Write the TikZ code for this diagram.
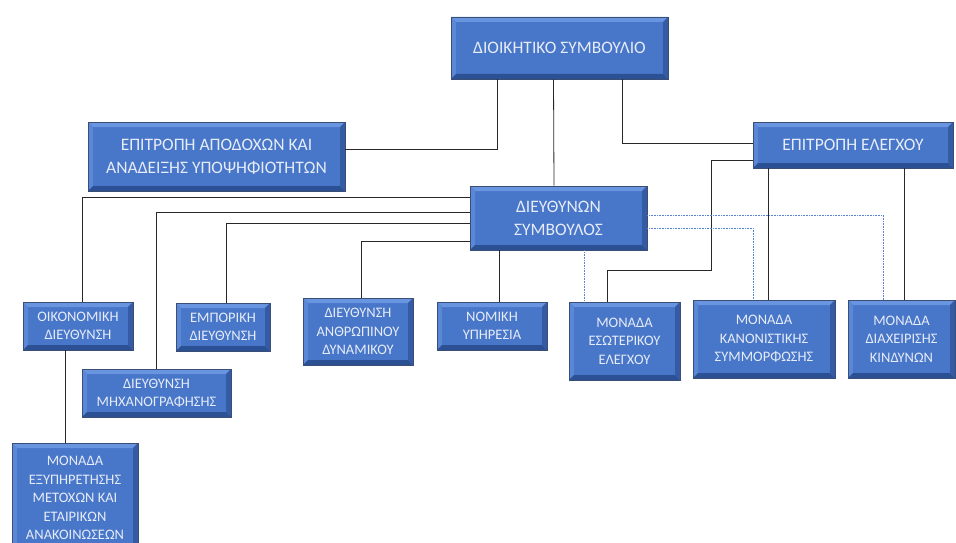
\documentclass[tikz,border=0pt]{standalone}
\usepackage{fontspec}
\setmainfont{Carlito}
\usepackage{tikz}
\usetikzlibrary{positioning,calc}
\definecolor{boxfill}{RGB}{72,118,200}
\definecolor{bevellight}{RGB}{104,148,224}
\definecolor{beveldark}{RGB}{44,80,148}
\definecolor{boxedge}{RGB}{58,78,118}
\definecolor{boxtext}{RGB}{230,236,248}
\definecolor{linkcolor}{RGB}{40,40,40}
\definecolor{dotcolor}{RGB}{90,130,210}
\newcommand{\bb}{path picture bounding box}
\tikzset{
    org box/.style={rectangle, draw=boxedge, line width=0.8pt, fill=boxfill, text=boxtext,
        align=center, inner sep=2pt, font=\fontsize{14.5}{18.5}\selectfont,
        path picture={
            \fill[bevellight] (\bb.north west) -- (\bb.north east)
                -- ([shift={(-5pt,-5pt)}]\bb.north east) -- ([shift={(5pt,-5pt)}]\bb.north west) -- cycle;
            \fill[bevellight!60!boxfill] (\bb.north west) -- (\bb.south west)
                -- ([shift={(5pt,5pt)}]\bb.south west) -- ([shift={(5pt,-5pt)}]\bb.north west) -- cycle;
            \fill[beveldark] (\bb.south west) -- (\bb.south east)
                -- ([shift={(-5pt,5pt)}]\bb.south east) -- ([shift={(5pt,5pt)}]\bb.south west) -- cycle;
            \fill[beveldark!70!boxfill] (\bb.north east) -- (\bb.south east)
                -- ([shift={(-5pt,5pt)}]\bb.south east) -- ([shift={(-5pt,-5pt)}]\bb.north east) -- cycle;
        }},
    big box/.style={org box, font=\fontsize{17.5}{23}\selectfont},
    link/.style={draw=linkcolor, line width=0.8pt},
    dotted link/.style={draw=dotcolor, line width=0.6pt, densely dotted}
}
\begin{document}
\begin{tikzpicture}[x=1pt, y=-1pt]
    \useasboundingbox (0,0) rectangle (956,543);

    % Board and committees
    \node[big box, minimum width=217pt, minimum height=62pt] (board) at (559.5,48) {ΔΙΟΙΚΗΤΙΚΟ ΣΥΜΒΟΥΛΙΟ};
    \node[big box, minimum width=257pt, minimum height=69pt] (remun) at (216.5,156.5) {ΕΠΙΤΡΟΠΗ ΑΠΟΔΟΧΩΝ ΚΑΙ\\ΑΝΑΔΕΙΞΗΣ ΥΠΟΨΗΦΙΟΤΗΤΩΝ};
    \node[big box, minimum width=200pt, minimum height=46pt] (audit) at (853,145) {ΕΠΙΤΡΟΠΗ ΕΛΕΓΧΟΥ};

    % Chief executive
    \node[big box, minimum width=177pt, minimum height=64pt] (ceo) at (558.5,218) {ΔΙΕΥΘΥΝΩΝ\\ΣΥΜΒΟΥΛΟΣ};

    % Directorates
    \node[org box, minimum width=110pt, minimum height=48pt] (fin) at (78,326) {ΟΙΚΟΝΟΜΙΚΗ\\ΔΙΕΥΘΥΝΣΗ};
    \node[org box, minimum width=94pt, minimum height=48pt] (comm) at (223,327) {ΕΜΠΟΡΙΚΗ\\ΔΙΕΥΘΥΝΣΗ};
    \node[org box, minimum width=149pt, minimum height=48pt] (it) at (156.5,393) {ΔΙΕΥΘΥΝΣΗ\\ΜΗΧΑΝΟΓΡΑΦΗΣΗΣ};
    \node[org box, minimum width=110pt, minimum height=67pt] (hr) at (358,331.5) {ΔΙΕΥΘΥΝΣΗ\\ΑΝΘΡΩΠΙΝΟΥ\\ΔΥΝΑΜΙΚΟΥ};
    \node[org box, minimum width=110pt, minimum height=48pt] (legal) at (492,326) {ΝΟΜΙΚΗ\\ΥΠΗΡΕΣΙΑ};
    \node[org box, minimum width=126pt, minimum height=110pt] (shares) at (75,498) {ΜΟΝΑΔΑ\\ΕΞΥΠΗΡΕΤΗΣΗΣ\\ΜΕΤΟΧΩΝ ΚΑΙ\\ΕΤΑΙΡΙΚΩΝ\\ΑΝΑΚΟΙΝΩΣΕΩΝ};

    % Control units
    \node[org box, minimum width=111pt, minimum height=78pt] (internal) at (624.5,341) {ΜΟΝΑΔΑ\\ΕΣΩΤΕΡΙΚΟΥ\\ΕΛΕΓΧΟΥ};
    \node[org box, minimum width=142pt, minimum height=78pt] (compliance) at (764,339) {ΜΟΝΑΔΑ\\ΚΑΝΟΝΙΣΤΙΚΗΣ\\ΣΥΜΜΟΡΦΩΣΗΣ};
    \node[org box, minimum width=107pt, minimum height=78pt] (risk) at (901.5,339) {ΜΟΝΑΔΑ\\ΔΙΑΧΕΙΡΙΣΗΣ\\ΚΙΝΔΥΝΩΝ};
    \coordinate (bend) at (711,270);

    % Board links
    \draw[link] ([xshift=-62.5pt]board.south) |- ([yshift=7.5pt]remun.east);
    \draw[link] ([xshift=-6pt]board.south) -- ([xshift=-4.5pt]ceo.north);
    \draw[link] ([xshift=62.5pt]board.south) |- ([yshift=2pt]audit.west);

    % Audit committee links
    \draw[link] ([yshift=-15pt]audit.west) -| (bend) -| ([xshift=-17.5pt]internal.north);
    \draw[link] ([xshift=-85pt]audit.south) -- ([xshift=-85pt]audit.south |- compliance.north);
    \draw[link] ([xshift=51pt]audit.south) -- ([xshift=51pt]audit.south |- risk.north);

    % CEO links
    \draw[link] ([yshift=21pt]ceo.west) -| ([xshift=4pt]fin.north);
    \draw[link] ([yshift=6pt]ceo.west) -| (it.north);
    \draw[link] ([yshift=-5pt]ceo.west) -| ([xshift=3pt]comm.north);
    \draw[link] ([yshift=-23pt]ceo.west) -| ([xshift=3pt]hr.north);
    \draw[link] ([xshift=-59.5pt]ceo.south) -- ([xshift=-59.5pt]ceo.south |- legal.north);
    \draw[link] ([xshift=-13pt]fin.south) -- ([xshift=-13pt]fin.south |- shares.north);

    % Dotted reporting lines
    \draw[dotted link] ([xshift=25.5pt]ceo.south) -- ([xshift=25.5pt]ceo.south |- internal.north);
    \draw[dotted link] ([yshift=-10pt]ceo.east) -| ([xshift=-11pt]compliance.north);
    \draw[dotted link] ([yshift=3pt]ceo.east) -| ([xshift=-18.5pt]risk.north);
\end{tikzpicture}
\end{document}
